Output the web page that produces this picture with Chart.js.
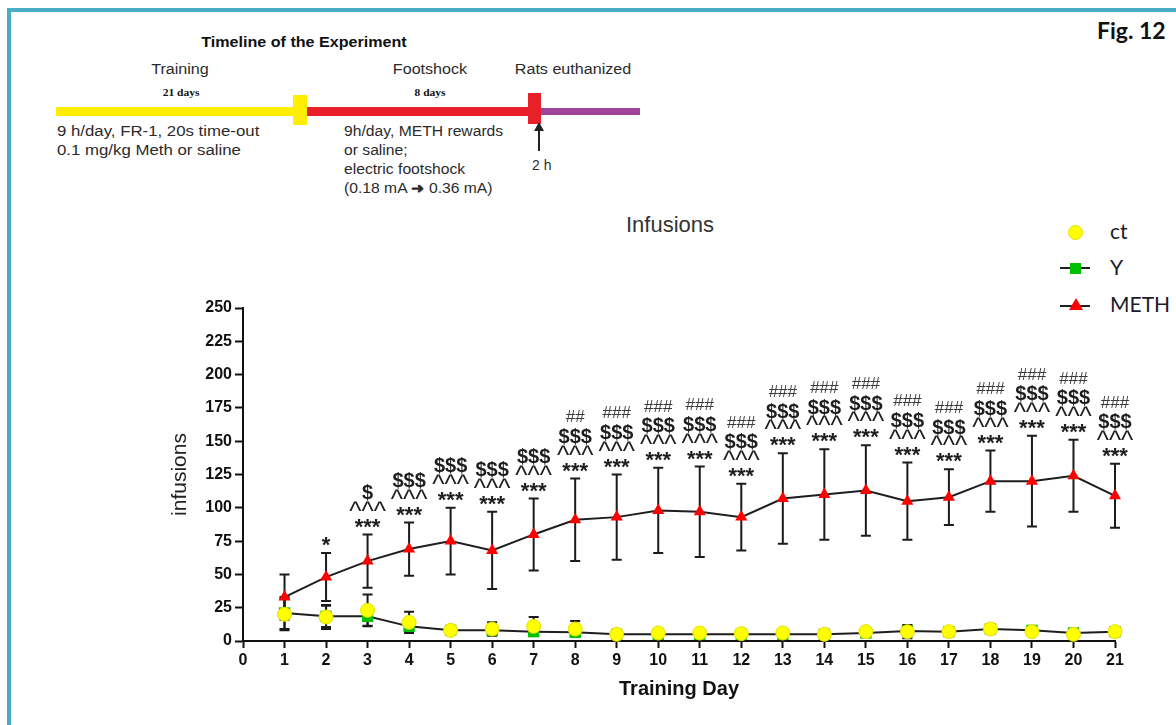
<!DOCTYPE html>
<html>
<head>
<meta charset="utf-8">
<script src="https://cdn.jsdelivr.net/npm/chart.js@4.4.1/dist/chart.umd.min.js"></script>
<style>
  html, body { margin: 0; padding: 0; background: #fff; }
  body { width: 1176px; height: 725px; position: relative; overflow: hidden;
         font-family: "Liberation Sans", Arial, sans-serif; }
  .frame { position: absolute; left: 7px; top: 8px; width: 1300px; height: 800px;
           border-left: 4px solid #4bacc6; border-top: 4px solid #4bacc6; }
  .t { position: absolute; white-space: nowrap; color: #2b2b2b; }
  .c { transform: translateX(-50%); }
  /* the timeline panel in the source is stretched sideways a little */
  .s { transform: translateX(-50%) scaleX(1.15); }
  .sl { transform: scaleX(1.2); transform-origin: left top; }
  .bar { position: absolute; }
  #chart { position: absolute; left: 0; top: 0; }
  .leg { position: absolute; font-family: Lato, "Open Sans", sans-serif; font-size: 21px; color: #1c1c2a; }
</style>
</head>
<body>
<div class="frame"></div>

<!-- timeline of the experiment -->
<div class="t s" style="left:304px;top:34px;font-size:14px;font-weight:bold;color:#111;">Timeline of the Experiment</div>
<div class="t s" style="left:180px;top:61px;font-size:14px;">Training</div>
<div class="t s" style="left:181px;top:87px;font-size:10px;font-weight:bold;font-family:'Liberation Serif',serif;color:#111;">21 days</div>
<div class="t s" style="left:430px;top:61px;font-size:14px;">Footshock</div>
<div class="t s" style="left:430px;top:87px;font-size:10px;font-weight:bold;font-family:'Liberation Serif',serif;color:#111;">8 days</div>
<div class="t s" style="left:573px;top:61px;font-size:14px;">Rats euthanized</div>

<div class="bar" style="left:56px;top:107px;width:240px;height:9px;background:#ffee00;"></div>
<div class="bar" style="left:293px;top:95px;width:14px;height:30px;background:#ffee00;"></div>
<div class="bar" style="left:307px;top:107px;width:222px;height:9px;background:#e8202a;"></div>
<div class="bar" style="left:528px;top:93px;width:13px;height:31px;background:#e8202a;"></div>
<div class="bar" style="left:541px;top:108px;width:99px;height:7px;background:#a0449a;"></div>

<div class="t sl" style="left:57px;top:122px;font-size:14px;line-height:19px;">9 h/day, FR-1, 20s time-out<br>0.1 mg/kg Meth or saline</div>
<div class="t sl" style="left:344px;top:122px;font-size:14px;line-height:19px;transform:scaleX(1.12);">9h/day, METH rewards<br>or saline;<br>electric footshock<br>(0.18 mA <b>&#10140;</b> 0.36 mA)</div>

<div class="bar" style="left:538px;top:129px;width:2px;height:22px;background:#222;"></div>
<div class="bar" style="left:534px;top:122px;width:0;height:0;border-left:5px solid transparent;border-right:5px solid transparent;border-bottom:9px solid #222;"></div>
<div class="t" style="left:532px;top:157px;font-size:14px;">2 h</div>

<div class="t" style="left:1097px;top:16px;font-size:23px;font-weight:bold;font-family:Lato,'Open Sans',sans-serif;color:#111;">Fig. 12</div>

<!-- chart title and legend -->
<div class="t c" style="left:670px;top:212px;font-size:22px;color:#333;">Infusions</div>

<div class="bar" style="left:1068px;top:225px;width:13px;height:13px;border-radius:50%;background:#ffff00;border:1px solid #e2e200;"></div>
<div class="leg" style="left:1110px;top:218px;">ct</div>

<div class="bar" style="left:1060px;top:267px;width:30px;height:2px;background:#222;"></div>
<div class="bar" style="left:1070px;top:263px;width:11px;height:11px;background:#00c000;"></div>
<div class="leg" style="left:1110px;top:254px;">Y</div>

<div class="bar" style="left:1060px;top:305px;width:30px;height:2px;background:#222;"></div>
<div class="bar" style="left:1069px;top:298px;width:0;height:0;border-left:7px solid transparent;border-right:7px solid transparent;border-bottom:12px solid #ff0000;"></div>
<div class="leg" style="left:1110px;top:291px;">METH</div>

<canvas id="chart" width="1176" height="725"></canvas>

<script>
// ─── Data ────────────────────────────────────────────────────────────────────
const days = [1, 2, 3, 4, 5, 6, 7, 8, 9, 10, 11, 12, 13, 14, 15, 16, 17, 18, 19, 20, 21];

const methMean = [33, 48, 60, 69, 75, 68, 80, 91, 93, 98, 97, 93, 107, 110, 113, 105, 108, 120, 120, 124, 109];
const methErr  = [17, 18, 20, 20, 25, 29, 27, 31, 32, 32, 34, 25, 34, 34, 34, 29, 21, 23, 34, 27, 24];

const ctMean = [20, 18, 23, 14, 8, 9, 11, 9, 5, 6, 6, 5.5, 6, 5, 7, 7, 7, 9, 7, 5, 7];
const ctErr  = [12, 9, 12, 8, 2, 5, 7, 6, 2, 2, 2, 2, 2, 2, 2, 5, 2, 2, 2, 2, 2];

const yMean = [21, 18.5, 18.5, 11, 8, 8, 7, 6.5, 5, 5, 5, 5, 5, 5, 6, 7.5, 7, 9, 8, 6, 7];
const yErr  = [12, 8, 7, 3, 2, 2, 2, 2, 2, 2, 2, 2, 2, 2, 2, 4, 2, 2, 2, 2, 2];

// significance marks stacked above each METH error bar (bottom line first)
const stars   = ["", "*", "***", "***", "***", "***", "***", "***", "***", "***", "***", "***", "***", "***", "***", "***", "***", "***", "***", "***", "***"];
const carets  = ["", "", "^^^", "^^^", "^^^", "^^^", "^^^", "^^^", "^^^", "^^^", "^^^", "^^^", "^^^", "^^^", "^^^", "^^^", "^^^", "^^^", "^^^", "^^^", "^^^"];
const dollars = ["", "", "$", "$$$", "$$$", "$$$", "$$$", "$$$", "$$$", "$$$", "$$$", "$$$", "$$$", "$$$", "$$$", "$$$", "$$$", "$$$", "$$$", "$$$", "$$$"];
const hashes  = ["", "", "", "", "", "", "", "##", "###", "###", "###", "###", "###", "###", "###", "###", "###", "###", "###", "###", "###"];

const xTicks = [0, 21];
const yTicks = [0, 250, 25];

const pts = (vals) => days.map((d, i) => ({ x: d, y: vals[i] }));

// ─── Error bars (drawn behind the markers) ───────────────────────────────────
const errorBars = {
    id: "errorBars",
    beforeDatasetsDraw(chart) {
        const { ctx, scales: { x, y } } = chart;
        ctx.save();
        ctx.strokeStyle = "#1b1b1b";
        ctx.lineWidth = 2;
        chart.data.datasets.forEach((ds) => {
            ds.data.forEach((p, i) => {
                const e = ds.errors[i];
                const px = x.getPixelForValue(p.x);
                const top = y.getPixelForValue(p.y + e);
                const bot = y.getPixelForValue(Math.max(p.y - e, 0));
                ctx.beginPath();
                ctx.moveTo(px, top); ctx.lineTo(px, bot);
                ctx.moveTo(px - 5, top); ctx.lineTo(px + 5, top);
                ctx.moveTo(px - 5, bot); ctx.lineTo(px + 5, bot);
                ctx.stroke();
            });
        });
        ctx.restore();
    },
};

// ─── Significance marks ──────────────────────────────────────────────────────
const sigMarks = {
    id: "sigMarks",
    afterDatasetsDraw(chart) {
        const { ctx, scales: { x, y } } = chart;
        ctx.save();
        ctx.textAlign = "center";
        ctx.textBaseline = "middle";
        days.forEach((d, i) => {
            const px = x.getPixelForValue(d);
            const base = y.getPixelForValue(methMean[i] + methErr[i]) - 10;
            ctx.fillStyle = "#1e1e1e";
            ctx.font = "bold 22px 'Liberation Sans'";
            ctx.fillText(stars[i], px, base + 3);
            ctx.font = "26px 'Liberation Sans'";
            ctx.fillText(carets[i], px, base - 12);
            ctx.font = "bold 20px 'Liberation Sans'";
            ctx.fillText(dollars[i], px, base - 31);
            ctx.fillStyle = "#3a3a3a";
            ctx.font = "17px 'Liberation Sans'";
            ctx.fillText(hashes[i], px, base - 51);
        });
        ctx.restore();
    },
};

const tickFont = { family: "Liberation Sans", size: 16, weight: "bold" };

new Chart(document.getElementById("chart"), {
    type: "line",
    data: {
        datasets: [
            {
                label: "ct",
                data: pts(ctMean),
                errors: ctErr,
                showLine: false,
                pointStyle: "circle",
                pointRadius: 7,
                backgroundColor: "#ffff00",
                borderColor: "#e0e000",
                borderWidth: 1,
                order: 0,
                clip: false,
            },
            {
                label: "Y",
                data: pts(yMean),
                errors: yErr,
                borderColor: "#1e1e1e",
                borderWidth: 2,
                pointStyle: "rect",
                pointRadius: 8,
                pointBackgroundColor: "#00c000",
                pointBorderColor: "#00c000",
                pointBorderWidth: 0,
                order: 1,
                clip: false,
            },
            {
                label: "METH",
                data: pts(methMean),
                errors: methErr,
                borderColor: "#1e1e1e",
                borderWidth: 2,
                pointStyle: "triangle",
                pointRadius: 7,
                pointBackgroundColor: "#ff0000",
                pointBorderColor: "#ff0000",
                pointBorderWidth: 0,
                order: 2,
                clip: false,
            },
        ],
    },
    options: {
        responsive: false,
        animation: false,
        events: [],
        layout: { padding: { left: 164, right: 61, top: 308, bottom: 20 } },
        plugins: { legend: { display: false }, tooltip: { enabled: false } },
        scales: {
            x: {
                type: "linear",
                min: xTicks[0],
                max: xTicks[1],
                ticks: { stepSize: 1, autoSkip: false, maxRotation: 0, color: "#111", font: tickFont, padding: 3 },
                grid: { drawOnChartArea: false, drawTicks: true, tickLength: 7, tickWidth: 2, tickColor: "#111" },
                border: { display: true, color: "#111", width: 2 },
                title: { display: true, text: "Training Day", color: "#111",
                         font: { family: "Liberation Sans", size: 20, weight: "bold" } },
                afterFit(s) { s.height = 64; },
            },
            y: {
                min: yTicks[0],
                max: yTicks[1],
                ticks: { stepSize: yTicks[2], color: "#111", font: tickFont, padding: 3 },
                grid: { drawOnChartArea: false, drawTicks: true, tickLength: 8, tickWidth: 2, tickColor: "#111" },
                border: { display: true, color: "#111", width: 2 },
                title: { display: true, text: "infusions", color: "#222",
                         font: { family: "Liberation Sans", size: 21 } },
                afterFit(s) { s.width = 79; },
            },
        },
    },
    plugins: [errorBars, sigMarks],
});
</script>
</body>
</html>
